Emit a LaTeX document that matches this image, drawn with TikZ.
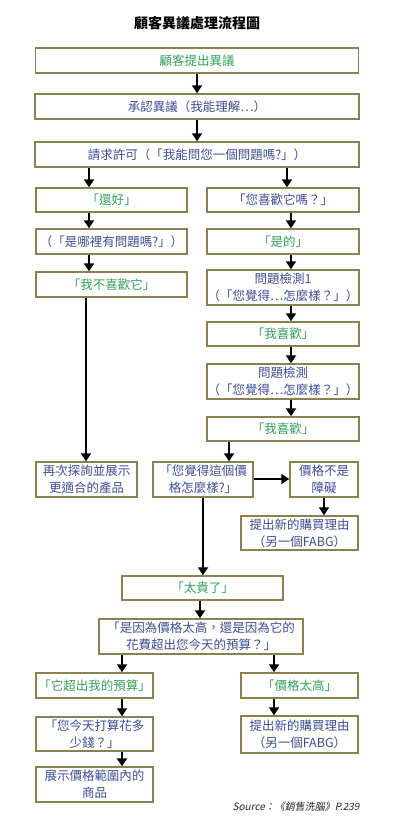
\documentclass[tikz,border=0pt]{standalone}
\usepackage{fontspec}
\setmainfont{Noto Sans CJK TC}
\newfontfamily\srcfont[FakeSlant=0.2]{Noto Sans CJK TC}
\usetikzlibrary{arrows.meta}
\definecolor{boxline}{RGB}{140,128,80}
\definecolor{txtblue}{RGB}{62,78,145}
\definecolor{txtgreen}{RGB}{52,160,90}
\tikzset{
  box/.style={draw=boxline, line width=1.4pt, fill=white, rectangle, align=center,
    inner sep=0pt, font=\fontsize{12.5}{17}\selectfont},
  bt/.style={box, text=txtblue},
  gt/.style={box, text=txtgreen},
  arr/.style={line width=2.8pt, -{Triangle[width=10pt,length=8pt]}},
  plain/.style={line width=2.8pt}
}
\begin{document}
\begin{tikzpicture}[x=1pt,y=-1pt]
\useasboundingbox (0,0) rectangle (400,833);
\node[font=\fontsize{14}{16}\selectfont\bfseries] (title) at (197,23) {顧客異議處理流程圖};
% top row
\node[gt, minimum width=323pt, minimum height=25pt] (t1) at (197,60.5) {顧客提出異議};
\node[bt, minimum width=324pt, minimum height=25pt] (t2) at (197,106.5) {承認異議（我能理解…）};
\node[bt, minimum width=324pt, minimum height=25pt] (t3) at (197,154.5) {請求許可（「我能問您一個問題嗎?」）};
% left column
\node[gt, minimum width=151pt, minimum height=24pt] (l1) at (111.5,200) {「還好」};
\node[bt, minimum width=151pt, minimum height=25pt] (l2) at (111.5,241.5) {（「是哪裡有問題嗎?」）};
\node[gt, minimum width=151pt, minimum height=25pt] (l3) at (111.5,284.5) {「我不喜歡它」};
\node[bt, minimum width=101pt, minimum height=35pt] (l4) at (86.5,479.5) {再次探詢並展示\\更適合的產品};
% right column
\node[bt, minimum width=152pt, minimum height=24pt] (r1) at (283,200) {「您喜歡它嗎？」};
\node[gt, minimum width=152pt, minimum height=25pt] (r2) at (283,241.5) {「是的」};
\node[bt, minimum width=152pt, minimum height=35pt] (r3) at (283,287.5) {問題檢測1\\（「您覺得…怎麼樣？」）};
\node[gt, minimum width=152pt, minimum height=24pt] (r4) at (283,334) {「我喜歡」};
\node[bt, minimum width=152pt, minimum height=35pt] (r5) at (283,381.5) {問題檢測\\（「您覺得…怎麼樣？」）};
\node[gt, minimum width=152pt, minimum height=24pt] (r6) at (283,429) {「我喜歡」};
% middle
\node[bt, minimum width=100pt, minimum height=35pt] (m1) at (203,479.5) {「您覺得這個價\\格怎麼樣?」};
\node[bt, minimum width=68pt, minimum height=35pt] (r7) at (324,479.5) {價格不是\\障礙};
\node[bt, minimum width=117pt, minimum height=34pt] (r8) at (299.5,533) {提出新的購買理由\\（另一個FABG）};
\node[gt, minimum width=161pt, minimum height=24pt] (m2) at (202.5,588) {「太貴了」};
\node[bt, minimum width=204pt, minimum height=35pt] (m3) at (201,636.5) {「是因為價格太高，還是因為它的\\花費超出您今天的預算？」};
% bottom
\node[gt, minimum width=117pt, minimum height=25pt] (b1) at (94.5,685.5) {「它超出我的預算」};
\node[gt, minimum width=117pt, minimum height=25pt] (b2) at (299.5,685.5) {「價格太高」};
\node[bt, minimum width=117pt, minimum height=34pt] (b3) at (94.5,734) {「您今天打算花多\\少錢？」};
\node[bt, minimum width=117pt, minimum height=35pt] (b4) at (94.5,784.5) {展示價格範圍內的\\商品};
\node[bt, minimum width=117pt, minimum height=37pt] (b5) at (299.5,734.5) {提出新的購買理由\\（另一個FABG）};
\node[anchor=east, font=\srcfont\fontsize{10}{12}\selectfont, text=black!85] (src) at (363,807) {Source：《銷售洗腦》P.239};
% x guides
\coordinate (xa) at (89,0);
\coordinate (xb) at (287,0);
\coordinate (xc) at (291,0);
\coordinate (xd) at (86,0);
\coordinate (xe) at (229,0);
\coordinate (xf) at (324,0);
\coordinate (xg) at (203,0);
\coordinate (xh) at (200,0);
\coordinate (xi) at (122,0);
\coordinate (xj) at (274,0);
\coordinate (ya) at (0,479);
% connectors
\draw[arr] (t1) -- (t2);
\draw[arr] (t2) -- (t3);
\draw[arr] (t3.south -| xa) -- (l1.north -| xa);
\draw[arr] (t3.south -| xb) -- (r1.north -| xb);
\draw[arr] (l1.south -| xa) -- (l2.north -| xa);
\draw[arr] (l2.south -| xa) -- (l3.north -| xa);
\draw[arr] (l3.south -| xd) -- (l4.north -| xd);
\draw[arr] (r1.south -| xc) -- (r2.north -| xc);
\draw[arr] (r2.south -| xc) -- (r3.north -| xc);
\draw[arr] (r3.south -| xc) -- (r4.north -| xc);
\draw[arr] (r4.south -| xc) -- (r5.north -| xc);
\draw[arr] (r5.south -| xc) -- (r6.north -| xc);
\draw[arr] (r6.south -| xe) -- (m1.north -| xe);
\draw[arr] (m1.east |- ya) -- (r7.west |- ya);
\draw[arr] (r7.south -| xf) -- (r8.north -| xf);
\draw[arr] (m1.south -| xg) -- (m2.north -| xg);
\draw[arr] (m2.south -| xh) -- (m3.north -| xh);
\draw[arr] (m3.south -| xi) -- (b1.north -| xi);
\draw[arr] (m3.south -| xj) -- (b2.north -| xj);
\draw[arr] (b1.south -| xi) -- (b3.north -| xi);
\draw[arr] (b3.south -| xi) -- (b4.north -| xi);
\draw[arr] (b2.south -| xj) -- (b5.north -| xj);
\end{tikzpicture}
\end{document}
